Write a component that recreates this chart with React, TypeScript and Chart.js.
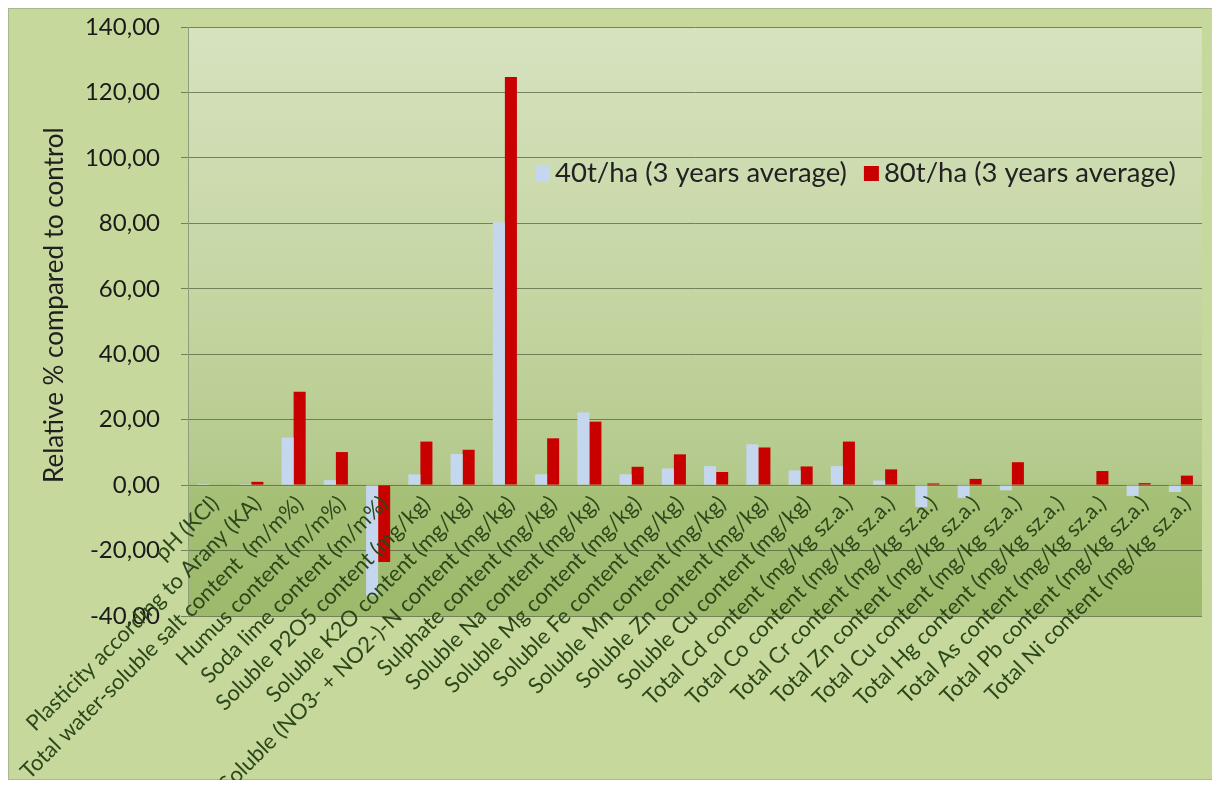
import React, { useEffect, useRef } from "react";
import { Chart, registerables } from "chart.js";

Chart.register(...registerables);

const categories: string[] = [
  "pH (KCl)",
  "Plasticity according to Arany (KA)",
  "Total water-soluble salt content  (m/m%)",
  "Humus content (m/m%)",
  "Soda lime content (m/m%)",
  "Soluble P2O5 content (mg/kg)",
  "Soluble K2O content (mg/kg)",
  "Soluble (NO3- + NO2-)-N content (mg/kg)",
  "Sulphate content (mg/kg)",
  "Soluble Na content (mg/kg)",
  "Soluble Mg content (mg/kg)",
  "Soluble Fe content (mg/kg)",
  "Soluble Mn content (mg/kg)",
  "Soluble Zn content (mg/kg)",
  "Soluble Cu content (mg/kg)",
  "Total Cd content (mg/kg sz.a.)",
  "Total Co content (mg/kg sz.a.)",
  "Total Cr content (mg/kg sz.a.)",
  "Total Zn content (mg/kg sz.a.)",
  "Total Cu content (mg/kg sz.a.)",
  "Total Hg content (mg/kg sz.a.)",
  "Total As content (mg/kg sz.a.)",
  "Total Pb content (mg/kg sz.a.)",
  "Total Ni content (mg/kg sz.a.)",
];

const series40: number[] = [
  0.4, 0.3, 14.5, 1.5, -33.8, 3.3, 9.5, 80.3, 3.3, 22.2, 3.3, 5.1, 5.8, 12.5,
  4.5, 5.8, 1.4, -6.7, -3.9, -1.6, 0, 0, -3.3, -2.1,
];

const series80: number[] = [
  0, 1.0, 28.5, 10.1, -23.5, 13.3, 10.8, 124.7, 14.3, 19.4, 5.6, 9.4, 4.0, 11.5,
  5.7, 13.3, 4.8, 0.5, 1.9, 7.0, 0, 4.3, 0.6, 2.9,
];

const seriesNames: string[] = ["40t/ha (3 years average)", "80t/ha (3 years average)"];
const seriesColors: string[] = ["#c5d7ee", "#c80000"];

const yMin = -40;
const yMax = 140;
const yStep = 20;
const yTitle = "Relative % compared to control";

const FONT = "Lato, 'Open Sans', sans-serif";

const decoPlugin = {
  id: "deco",
  beforeDraw(chart: any) {
    const { ctx, width, height, chartArea } = chart;
    ctx.save();
    ctx.fillStyle = "#c6d89c";
    ctx.fillRect(0, 0, width, height);
    ctx.strokeStyle = "#a9b894";
    ctx.lineWidth = 1;
    ctx.strokeRect(0.5, 0.5, width - 1, height - 1);
    const g = ctx.createLinearGradient(0, chartArea.top, 0, chartArea.bottom);
    g.addColorStop(0, "#d7e2bf");
    g.addColorStop(0.5, "#c3d4a0");
    g.addColorStop(0.77, "#b3c98b");
    g.addColorStop(0.785, "#a6c077");
    g.addColorStop(1, "#9db96b");
    ctx.fillStyle = g;
    ctx.fillRect(chartArea.left, chartArea.top, chartArea.right - chartArea.left, chartArea.bottom - chartArea.top);
    ctx.restore();
  },
  afterDatasetsDraw(chart: any) {
    const { ctx, chartArea } = chart;
    const xs = chart.scales.x;
    const ys = chart.scales.y;
    const y0 = ys.getPixelForValue(0);
    ctx.save();
    // category labels
    ctx.font = `22px ${FONT}`;
    ctx.fillStyle = "#2c4719";
    ctx.textAlign = "right";
    ctx.textBaseline = "middle";
    categories.forEach((c, i) => {
      const x = xs.getPixelForValue(i);
      ctx.save();
      ctx.translate(x + 6, y0 + 15);
      ctx.rotate(-Math.PI / 4);
      ctx.fillText(c, 0, 0);
      ctx.restore();
    });
    // legend
    ctx.font = `27.5px ${FONT}`;
    ctx.textAlign = "left";
    ctx.textBaseline = "middle";
    const ly = chartArea.top + 146;
    let lx = chartArea.left + 347;
    seriesNames.forEach((n, i) => {
      ctx.fillStyle = seriesColors[i];
      ctx.fillRect(lx, ly - 7, 15, 15);
      ctx.fillStyle = "#222222";
      ctx.fillText(n, lx + 20, ly);
      lx += 20 + ctx.measureText(n).width + 17;
    });
    // y title
    ctx.font = `26px ${FONT}`;
    ctx.fillStyle = "#1f1f1f";
    ctx.textAlign = "center";
    ctx.textBaseline = "middle";
    ctx.translate(47, ys.getPixelForValue(55));
    ctx.rotate(-Math.PI / 2);
    ctx.fillText(yTitle, 0, 0);
    ctx.restore();
  },
};

export default function App() {
  const ref = useRef<HTMLCanvasElement | null>(null);
  useEffect(() => {
    if (!ref.current) return;
    const chart = new Chart(ref.current, {
      type: "bar",
      data: {
        labels: categories,
        datasets: [
          {
            label: seriesNames[0],
            data: series40,
            backgroundColor: seriesColors[0],
            categoryPercentage: 0.57,
            barPercentage: 1,
          },
          {
            label: seriesNames[1],
            data: series80,
            backgroundColor: seriesColors[1],
            categoryPercentage: 0.57,
            barPercentage: 1,
          },
        ],
      },
      options: {
        animation: false,
        responsive: false,
        maintainAspectRatio: false,
        layout: { padding: { top: 19, right: 11, bottom: 164, left: 0 } },
        plugins: { legend: { display: false }, tooltip: { enabled: false } },
        scales: {
          x: {
            grid: { display: false },
            border: { display: false },
            ticks: { display: false },
            afterFit: (s: any) => {
              s.height = 0;
            },
          },
          y: {
            min: yMin,
            max: yMax,
            ticks: {
              stepSize: yStep,
              padding: 21,
              color: "#1a1a1a",
              font: { family: FONT, size: 24 },
              callback: (v: any) => Number(v).toFixed(2).replace(".", ","),
            },
            grid: { color: "rgba(85,100,65,0.75)", lineWidth: 1, tickLength: 7 },
            border: { display: true, color: "#8e9d7b" },
            afterFit: (s: any) => {
              s.width = 180;
              s.paddingTop = 0;
              s.paddingBottom = 0;
            },
          },
        },
      },
      plugins: [decoPlugin],
    });
    return () => chart.destroy();
  }, []);
  return (
    <canvas
      ref={ref}
      width={1205}
      height={772}
      style={{ display: "block", width: 1205, height: 772 }}
    />
  );
}
